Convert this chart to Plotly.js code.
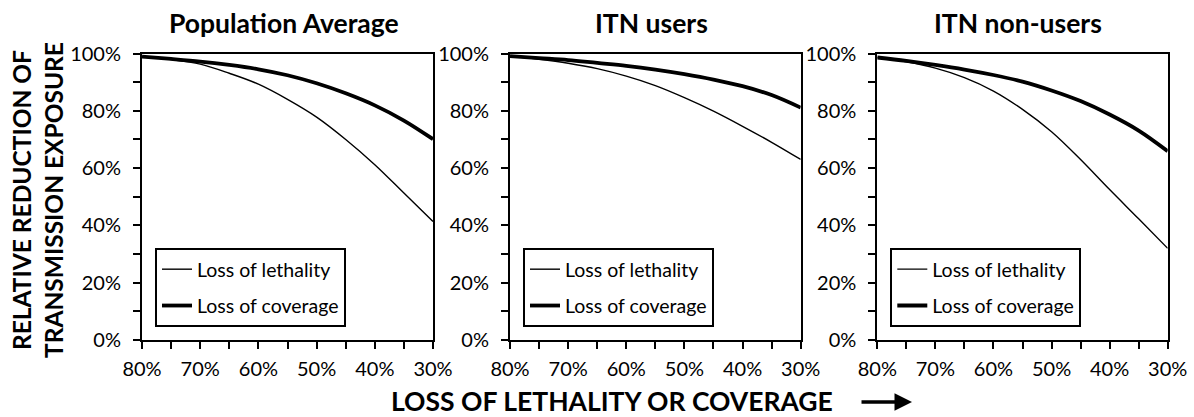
<!DOCTYPE html>
<html>
<head>
<meta charset="utf-8">
<script src="https://cdn.plot.ly/plotly-3.0.1.min.js"></script>
<style>html,body{margin:0;padding:0;background:#fff;}#chart{width:1194px;height:417px;}</style>
</head>
<body>
<div id="chart"></div>
<script>
// Loss of lethality or coverage (%), x axis runs 80% -> 30%
const xLoss = [80, 75, 70, 65, 60, 55, 50, 45, 40, 35, 30];

// Relative reduction of transmission exposure (%)
const popLethality = [98.9, 97.9, 96.3, 93.1, 89.3, 84.0, 77.8, 70.0, 61.2, 51.3, 41.4];
const popCoverage  = [98.9, 98.1, 97.2, 96.0, 94.5, 92.4, 89.6, 86.1, 81.9, 76.6, 70.1];

const usersLethality = [99.1, 98.0, 96.6, 94.7, 92.1, 88.8, 84.6, 79.9, 74.6, 69.0, 63.0];
const usersCoverage  = [99.1, 98.4, 97.7, 96.7, 95.7, 94.4, 92.8, 90.9, 88.6, 85.5, 81.1];

const nonLethality = [98.6, 97.1, 94.9, 91.6, 86.9, 80.5, 72.7, 63.0, 52.5, 42.3, 32.0];
const nonCoverage  = [98.6, 97.4, 96.0, 94.4, 92.5, 90.2, 87.1, 83.4, 78.7, 73.1, 65.9];

const panelTitles = ["Population Average", "ITN users", "ITN non-users"];
const seriesNames = ["Loss of lethality", "Loss of coverage"];
const yTitle = "RELATIVE REDUCTION OF<br>TRANSMISSION EXPOSURE";
const xTitle = "LOSS OF LETHALITY OR COVERAGE";

const W = 1194, H = 417;
const FONT = "Lato, 'Open Sans', sans-serif";
const panels = [
  {left: 142, right: 433, lethal: popLethality, cover: popCoverage},
  {left: 510, right: 800.7, lethal: usersLethality, cover: usersCoverage},
  {left: 877.3, right: 1167.7, lethal: nonLethality, cover: nonCoverage}
];
const plotTop = 53.5, plotBottom = 340;
const px = v => v / W, py = v => 1 - v / H;

const traces = [];
const layout = {
  width: W, height: H,
  margin: {l: 0, r: 0, t: 0, b: 0},
  paper_bgcolor: "#fff", plot_bgcolor: "#fff",
  font: {family: FONT, color: "#000", size: 20},
  showlegend: true,
  annotations: [], shapes: []
};

panels.forEach((p, i) => {
  const n = i === 0 ? "" : String(i + 1);
  const legName = i === 0 ? "legend" : "legend" + (i + 1);
  traces.push({
    x: xLoss, y: p.lethal, xaxis: "x" + n, yaxis: "y" + n,
    type: "scatter", mode: "lines", name: seriesNames[0],
    line: {color: "#000", width: 1.4, shape: "spline"},
    legend: legName, legendgroup: "a" + i, hoverinfo: "skip"
  });
  traces.push({
    x: xLoss, y: p.cover, xaxis: "x" + n, yaxis: "y" + n,
    type: "scatter", mode: "lines", name: seriesNames[1],
    line: {color: "#000", width: 3.8, shape: "spline"},
    legend: legName, legendgroup: "b" + i, hoverinfo: "skip"
  });
  layout["xaxis" + n] = {
    domain: [px(p.left), px(p.right)], anchor: "y" + n,
    range: [80, 30], dtick: 10, tick0: 0, ticksuffix: "%",
    showline: true, mirror: true, linecolor: "#000", linewidth: 2,
    ticks: "outside", ticklen: 7, tickwidth: 2, tickcolor: "#000",
    minor: {dtick: 5, ticks: "outside", ticklen: 7, tickwidth: 2, tickcolor: "#000", showgrid: false},
    showgrid: false, zeroline: false, fixedrange: true, ticklabelstandoff: 3,
    tickfont: {family: FONT, size: 20, color: "#000"}
  };
  layout["yaxis" + n] = {
    domain: [py(plotBottom), py(plotTop)], anchor: "x" + n,
    range: [0, 100], dtick: 20, tick0: 0, ticksuffix: "%",
    showline: true, mirror: true, linecolor: "#000", linewidth: 2,
    ticks: "outside", ticklen: 7, tickwidth: 2, tickcolor: "#000",
    minor: {dtick: 10, ticks: "outside", ticklen: 7, tickwidth: 2, tickcolor: "#000", showgrid: false},
    showgrid: false, zeroline: false, fixedrange: true, ticklabelstandoff: 8,
    tickfont: {family: FONT, size: 20, color: "#000"}
  };
  layout[legName] = {
    x: px(p.left + 13), y: py(248), xanchor: "left", yanchor: "top",
    xref: "paper", yref: "paper",
    bgcolor: "#fff", bordercolor: "#000", borderwidth: 2,
    font: {family: FONT, size: 19.5, color: "#000"},
    traceorder: "grouped", tracegroupgap: 8, itemwidth: 30
  };
  layout.annotations.push({
    text: "<b>" + panelTitles[i] + "</b>", xref: "paper", yref: "paper",
    x: px((p.left + p.right) / 2 - 4), y: py(23), xanchor: "center", yanchor: "middle",
    showarrow: false, font: {family: FONT, size: 26.5, color: "#000"}
  });
});

layout.annotations.push({
  text: "<b>" + yTitle + "</b>", xref: "paper", yref: "paper",
  x: px(37), y: py(200), xanchor: "center", yanchor: "middle", textangle: -90,
  showarrow: false, font: {family: FONT, size: 24.5, color: "#000"}
});
layout.annotations.push({
  text: "<b>" + xTitle + "</b>", xref: "paper", yref: "paper",
  x: px(612), y: py(419), xanchor: "center", yanchor: "bottom",
  showarrow: false, font: {family: FONT, size: 26.5, color: "#000"}
});
layout.annotations.push({
  text: "", xref: "paper", yref: "paper",
  x: px(912), y: py(402), ax: -52, ay: 0,
  showarrow: true, arrowhead: 2, arrowsize: 1, arrowwidth: 3.5, arrowcolor: "#000"
});

Plotly.newPlot("chart", traces, layout, {staticPlot: true, displayModeBar: false});
</script>
</body>
</html>
